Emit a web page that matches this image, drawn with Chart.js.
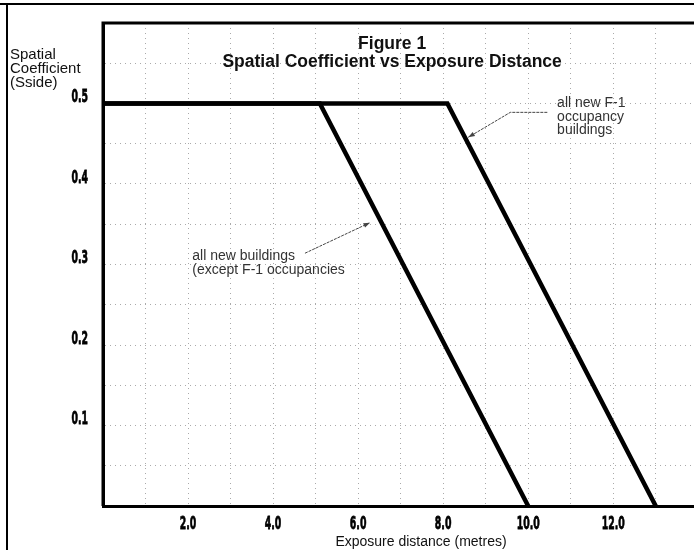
<!DOCTYPE html>
<html>
<head>
<meta charset="utf-8">
<script src="https://cdn.jsdelivr.net/npm/chart.js@4.4.0/dist/chart.umd.min.js"></script>
<style>
  html, body { margin: 0; padding: 0; background: #fff; }
  #wrap { width: 694px; height: 550px; position: relative; }
</style>
</head>
<body>
<div id="wrap"><canvas id="fig"></canvas></div>
<script>
// data
const otherDistance = [0, 5.1, 10.0];     // all new buildings (except F-1)
const otherCoeff    = [0.5, 0.5, 0];
const f1Distance    = [0, 8.1, 13.0];     // all new F-1 occupancy buildings
const f1Coeff       = [0.5, 0.5, 0];
const xTickLabels   = [2, 4, 6, 8, 10, 12];
const yTickLabels   = [0.1, 0.2, 0.3, 0.4, 0.5];

const titleLines = ['Figure 1', 'Spatial Coefficient vs Exposure Distance'];
const yTitle = ['Spatial', 'Coefficient', '(Sside)'];
const xTitle = 'Exposure distance (metres)';
const noteOther = ['all new buildings', '(except F-1 occupancies'];
const noteF1 = ['all new F-1', 'occupancy', 'buildings'];

function pts(xs, ys) { return xs.map((x, i) => ({ x: x, y: ys[i] })); }

const sans = "'Liberation Sans', Arial, sans-serif";

// narrow heavy digits like the scanned figure
function squeezedText(ctx, text, x, y) {
  ctx.save();
  ctx.translate(x, y);
  ctx.scale(0.52, 1);
  ctx.fillText(text, 0, 0);
  ctx.strokeText(text, 0, 0);
  ctx.restore();
}

function arrow(ctx, path, sx, sy) {
  ctx.save();
  ctx.strokeStyle = '#444';
  ctx.fillStyle = '#444';
  ctx.lineWidth = 1;
  ctx.setLineDash([3, 1]);
  ctx.beginPath();
  path.forEach((p, i) => {
    const px = sx.getPixelForValue(p[0]), py = sy.getPixelForValue(p[1]);
    if (i === 0) ctx.moveTo(px, py); else ctx.lineTo(px, py);
  });
  ctx.stroke();
  ctx.setLineDash([]);
  const a = path[path.length - 2], b = path[path.length - 1];
  const ax = sx.getPixelForValue(a[0]), ay = sy.getPixelForValue(a[1]);
  const bx = sx.getPixelForValue(b[0]), by = sy.getPixelForValue(b[1]);
  const ang = Math.atan2(by - ay, bx - ax);
  ctx.beginPath();
  ctx.moveTo(bx, by);
  ctx.lineTo(bx - 7 * Math.cos(ang - 0.35), by - 7 * Math.sin(ang - 0.35));
  ctx.lineTo(bx - 7 * Math.cos(ang + 0.35), by - 7 * Math.sin(ang + 0.35));
  ctx.closePath();
  ctx.fill();
  ctx.restore();
}

const extras = {
  id: 'extras',
  afterDraw: function (chart) {
    const ctx = chart.ctx, sx = chart.scales.x, sy = chart.scales.y;
    const area = chart.chartArea;
    ctx.save();
    // page frame
    ctx.strokeStyle = '#000';
    ctx.lineWidth = 2;
    ctx.beginPath();
    ctx.moveTo(0, 4); ctx.lineTo(694, 4);
    ctx.moveTo(7, 4); ctx.lineTo(7, 550);
    ctx.stroke();

    // plot border left / top
    ctx.lineWidth = 3;
    ctx.beginPath();
    ctx.moveTo(area.left, area.bottom);
    ctx.lineTo(area.left, area.top);
    ctx.lineTo(area.right, area.top);
    ctx.stroke();

    // tick labels
    ctx.fillStyle = '#000';
    ctx.strokeStyle = '#000';
    ctx.lineWidth = 0.8;
    ctx.font = "bold 18px 'DejaVu Sans', sans-serif";
    ctx.textBaseline = 'middle';
    ctx.textAlign = 'center';
    xTickLabels.forEach(v => squeezedText(ctx, v.toFixed(1), sx.getPixelForValue(v), area.bottom + 18));
    ctx.textAlign = 'right';
    yTickLabels.forEach(v => squeezedText(ctx, v.toFixed(1), 88, sy.getPixelForValue(v) - 6));

    // title
    ctx.fillStyle = '#111';
    ctx.textAlign = 'center';
    ctx.font = "bold 17.5px " + sans;
    ctx.fillText(titleLines[0], sx.getPixelForValue(6.8), sy.getPixelForValue(0.574));
    ctx.fillText(titleLines[1], sx.getPixelForValue(6.8), sy.getPixelForValue(0.551));

    // x axis title
    ctx.font = "14px " + sans;
    ctx.fillText(xTitle, 421, 542);

    // y axis title, upper left
    ctx.textAlign = 'left';
    ctx.font = "15px " + sans;
    yTitle.forEach((t, i) => ctx.fillText(t, 10, 55 + i * 14));

    // annotations
    ctx.font = "14px " + sans;
    ctx.fillStyle = '#333';
    noteOther.forEach((t, i) => ctx.fillText(t, sx.getPixelForValue(2.1), sy.getPixelForValue(0.31) + i * 13.5));
    noteF1.forEach((t, i) => ctx.fillText(t, sx.getPixelForValue(10.68), sy.getPixelForValue(0.5) + i * 13.5));
    ctx.restore();

    arrow(ctx, [[4.75, 0.314], [6.28, 0.352]], sx, sy);
    arrow(ctx, [[10.45, 0.489], [9.58, 0.489], [8.59, 0.458]], sx, sy);
  }
};

new Chart(document.getElementById('fig'), {
  type: 'scatter',
  data: {
    datasets: [
      {
        label: 'all new buildings (except F-1 occupancies)',
        data: pts(otherDistance, otherCoeff),
        showLine: true, borderColor: '#000', borderWidth: 4.5, pointRadius: 0, tension: 0
      },
      {
        label: 'all new F-1 occupancy buildings',
        data: pts(f1Distance, f1Coeff),
        showLine: true, borderColor: '#000', borderWidth: 4.5, pointRadius: 0, tension: 0
      }
    ]
  },
  options: {
    responsive: true,
    maintainAspectRatio: false,
    animation: false,
    layout: { padding: { left: 0, right: 0, top: 23, bottom: 0 } },
    plugins: { legend: { display: false }, tooltip: { enabled: false } },
    scales: {
      x: {
        type: 'linear', min: 0, max: 13.9,
        afterFit: function (s) { s.height = 44; },
        afterBuildTicks: function (s) {
          s.ticks = [];
          for (let v = 0; v <= 13; v++) s.ticks.push({ value: v });
        },
        grid: { color: '#aaa', lineWidth: 1, drawTicks: false },
        border: { display: true, color: '#000', width: 3, dash: [1, 4] },
        ticks: { display: false }
      },
      y: {
        type: 'linear', min: 0, max: 0.6,
        afterFit: function (s) { s.width = 103; },
        afterBuildTicks: function (s) {
          s.ticks = [];
          for (let i = 0; i <= 12; i++) s.ticks.push({ value: i * 5 / 100 });
        },
        grid: { color: '#aaa', lineWidth: 1, drawTicks: false },
        border: { display: true, color: '#000', width: 3, dash: [1, 4] },
        ticks: { display: false }
      }
    }
  },
  plugins: [extras]
});
</script>
</body>
</html>
